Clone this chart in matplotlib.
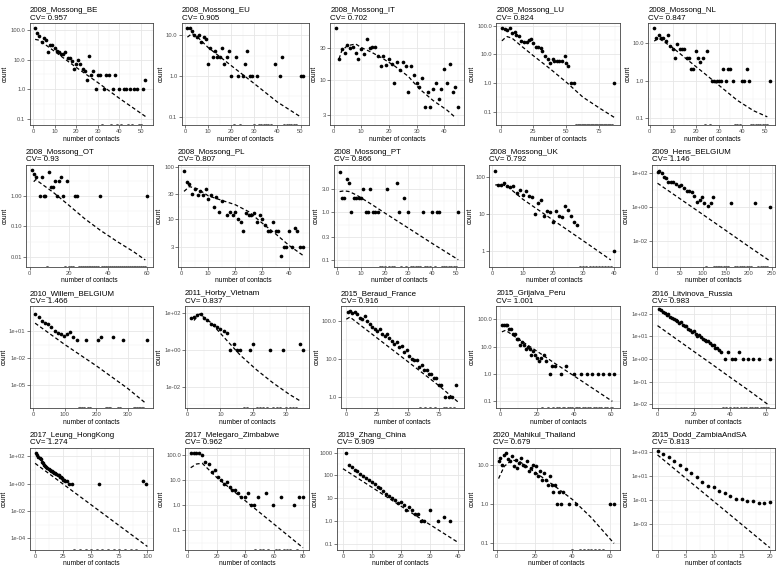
import matplotlib.pyplot as plt
from matplotlib.ticker import MultipleLocator, FixedLocator, NullFormatter

plt.rcParams['font.family'] = ['Liberation Sans', 'DejaVu Sans']

# ---------------- data ----------------
be_x = [1, 2, 3, 4, 5, 6, 7, 8, 9, 10, 11, 12, 13, 14, 15, 16, 17, 18, 19, 20, 21, 22, 23, 24, 25, 26, 27, 28, 29, 30, 31,
        33, 34, 35, 37, 38, 40, 42, 43, 45, 47, 48, 51, 52]
be_y = [120, 80, 62, 38, 52, 45, 18, 32, 30, 25, 19, 18, 16, 15, 18, 11, 11, 9, 5, 7, 10, 7, 5, 4, 2, 13, 3, 4, 1, 3, 3,
        1, 3, 3, 1, 3, 1, 1, 1, 1, 1, 1, 1, 2]
be_zero = [32, 36, 39, 41, 44, 46, 49, 50]
be_fit_x = [1, 3, 5, 10, 20, 30, 40, 53]
be_fit_y = [48, 45, 35, 19, 5.5, 1.7, 0.5, 0.11]

eu_x = [1, 2, 3, 4, 5, 6, 7, 8, 9, 10, 11, 12, 13, 14, 15, 16, 17, 18, 19, 20, 22, 23, 25, 26, 27, 28, 29, 31, 39, 41,
        42, 50, 51]
eu_y = [15, 15, 13, 10, 9, 10, 7, 9, 8, 2, 5, 3, 4, 3, 3, 5, 2, 3, 4, 1, 3, 1, 1, 2, 4, 1, 1, 1, 2, 1, 3, 1, 1]
eu_zero = [21, 24, 30, 32, 33, 34, 35, 36, 37, 43, 44, 45, 46, 47, 48]
eu_fit_x = [1, 3, 5, 10, 20, 30, 40, 50]
eu_fit_y = [9, 11, 9.5, 5, 1.8, 0.65, 0.23, 0.1]

it_x = [1, 2, 3, 4, 5, 6, 7, 8, 9, 10, 11, 12, 13, 14, 15, 16, 17, 18, 19, 20, 21, 22, 23, 24, 25, 26, 27, 28, 29, 30,
        31, 32, 33, 34, 35, 36, 37, 38, 39, 40, 41, 42, 43, 44, 45]
it_y = [61, 21, 29, 26, 34, 30, 32, 26, 21, 29, 25, 42, 30, 32, 32, 23, 16.5, 23, 17, 21, 17.5, 9, 19, 14.5, 19, 16.5,
        6.7, 16.5, 12, 9, 8, 11, 4, 6.7, 4, 7.5, 9, 5.2, 7.4, 15, 9, 17.5, 6.7, 8, 4]
it_zero = []
it_fit_x = [2, 3, 5, 8, 10, 14, 18, 22, 27, 31, 36, 41, 44]
it_fit_y = [21, 28, 33, 35, 31, 26, 21, 16.5, 11.5, 7.5, 5, 3.6, 2.8]

lu_x = [1, 3, 5, 7, 9, 11, 12, 14, 16, 18, 20, 22, 23, 25, 27, 29, 31, 32, 34, 36, 38, 40, 41, 43, 45, 47, 49, 50, 52,
        54, 56, 87]
lu_y = [85, 79, 69, 85, 54, 62, 48, 44, 30, 28, 28, 31, 35, 24, 18, 18, 17, 13, 9, 7, 5, 7, 6, 6, 6, 6, 9, 5, 4,
        1, 1, 1]
lu_zero = [58, 59, 60, 61, 62, 63, 64, 65, 66, 67, 68, 69, 70, 71, 72, 73, 74, 75, 76, 77, 78, 79, 80, 81, 82, 83, 84, 85]
lu_fit_x = [1, 3, 5, 9, 15, 25, 38, 51, 63, 76, 87]
lu_fit_y = [29.5, 36, 41.6, 36, 21, 9, 3.1, 1, 0.32, 0.13, 0.063]

nl_x = [2, 3, 4, 5, 6, 7, 8, 9, 10, 11, 12, 13, 14, 15, 16, 17, 18, 19, 20, 21, 22, 23, 25, 27, 28, 29, 30, 31, 32, 33,
        34, 35, 36, 40, 41, 42, 43, 52]
nl_y = [25, 13, 16, 13, 13, 11, 16, 8, 7, 4, 9, 7, 7, 7, 4, 4, 2, 2, 6, 4, 3, 4, 6, 1, 1, 1, 1, 1, 2, 1,
        2, 2, 1, 1, 1, 2, 1, 1]
nl_zero = [24, 26, 37, 38, 39, 44, 45, 46, 47, 48, 49, 50, 51]
nl_fit_x = [2, 4, 10, 17, 24, 31, 38, 45, 51]
nl_fit_y = [11, 13, 7.4, 3.3, 1.5, 0.67, 0.3, 0.16, 0.11]

ot_x = [1, 2, 3, 5, 6, 7, 8, 10, 11, 12, 13, 14, 15, 16, 17, 19, 23, 24, 36, 60]
ot_y = [7, 5, 4, 1, 4, 1, 1, 6, 2, 2, 3, 1, 3, 4, 1, 3, 1, 1, 1, 1]
ot_zero = [9, 18, 20, 21, 22, 25, 26, 27, 28, 29, 30, 31, 32, 33, 34, 35, 37, 38, 39, 40, 41, 42, 43, 44, 45, 46, 47,
           48, 49, 50, 51, 52, 53, 54, 55, 56, 57, 58, 59]
ot_fit_x = [2, 3, 12, 20, 28, 36, 45, 53, 59]
ot_fit_y = [2.9, 3.4, 1.3, 0.49, 0.18, 0.075, 0.031, 0.015, 0.008]

pl_x = [1, 2, 3, 4, 5, 6, 7, 8, 9, 10, 11, 12, 13, 14, 15, 17, 18, 19, 20, 21, 22, 23, 24, 25, 26, 27, 28, 29, 30, 31,
        32, 33, 34, 35, 36, 37, 38, 39, 40, 41, 42, 43, 44, 45]
pl_y = [84, 51, 47, 30, 38, 29, 34, 29, 37, 24, 29, 17, 27, 14, 22, 12, 14, 12, 14, 10, 9, 6, 13, 12, 12, 13, 9, 12, 10,
        8, 6, 6, 9, 6, 6, 2, 3, 3, 6, 3, 7, 6, 3, 3]
pl_zero = []
pl_fit_x = [1, 3, 6, 10, 15, 20, 25, 30, 35, 40, 45]
pl_fit_y = [34, 42, 38, 28, 23, 19, 14, 8.5, 5.3, 3.2, 2.1]

pt_x = [1, 2, 3, 4, 5, 6, 7, 8, 9, 10, 11, 12, 13, 14, 15, 16, 17, 21, 25, 26, 28, 30, 36, 40, 42, 43, 51]
pt_y = [7, 2, 2, 5, 4, 1, 2, 2, 2, 2, 3, 1, 1, 3, 1, 1, 1, 3, 4, 1, 2, 1, 1, 1, 1, 1, 1]
pt_zero = [18, 19, 20, 22, 23, 24, 27, 29, 31, 32, 33, 34, 35, 37, 38, 39, 41, 44, 45, 46, 47, 48, 49, 50]
pt_fit_x = [1, 3, 5, 8, 10, 15, 20, 30, 40, 51]
pt_fit_y = [2.7, 2.8, 2.7, 2.3, 2, 1.4, 0.96, 0.46, 0.22, 0.1]

uk_x = [1, 2, 3, 4, 5, 6, 7, 8, 9, 10, 11, 12, 13, 14, 15, 16, 17, 18, 19, 20, 21, 22, 23, 24, 25, 26, 27, 28, 40]
uk_y = [145, 60, 61, 68, 57, 52, 57, 36, 44, 32, 41, 31, 28, 10, 19, 23, 9, 12, 11, 6, 12, 9, 8, 16, 13, 9, 6, 5, 1]
uk_zero = [29, 30, 31, 32, 33, 34, 35, 36, 37, 38, 39]
uk_fit_x = [1, 3, 5, 10, 20, 30, 39]
uk_fit_y = [60, 62, 55, 25, 6.8, 1.86, 0.57]

hens_x = [2, 6, 11, 15, 20, 25, 31, 36, 42, 48, 53, 59, 66, 71, 77, 82, 88, 93, 98, 102, 111, 117, 122, 162, 212, 245]
hens_y = [125, 143, 100, 64, 53, 32, 30, 32, 22, 19, 20, 14, 9.5, 9.5, 8.3, 4.3, 2, 2.7, 4.1, 1.8, 1.1, 1.8, 4.1, 1.8,
          1.8, 1]
hens_zero = [108, 125, 128, 132, 135, 140, 145, 150, 155, 170, 175, 180, 185, 190, 195, 200, 205, 220, 225, 230, 235, 240]
hens_fit_x = [2, 50, 100, 150, 200, 245]
hens_fit_y = [26, 3.2, 0.36, 0.04, 0.0044, 0.00063]

willem_x = [6, 18, 28, 38, 47, 57, 68, 79, 88, 98, 107, 118, 127, 138, 167, 206, 216, 255, 284, 363]
willem_y = [810, 350, 150, 84, 55, 32, 9.2, 6, 5, 2.8, 4.7, 7.7, 2.2, 1, 1, 1, 2.2, 2.2, 1, 1]
willem_zero = [145, 150, 155, 160, 175, 180, 230, 235, 240, 245, 270, 275, 320, 325, 330, 335, 340, 345, 350]
willem_fit_x = [6, 100, 200, 300, 355]
willem_fit_y = [76, 0.32, 1.4e-3, 4.2e-6, 1.1e-7]

horby_x = [1, 2, 3, 4, 5, 6, 7, 8, 9, 10, 11, 12, 13, 14, 15, 16, 19, 20, 25, 29, 34, 35]
horby_y = [54, 59, 81, 88, 50, 39, 26, 21, 17, 13, 10, 8.5, 1, 2, 1, 1, 1, 2, 1, 1, 2, 1]
horby_zero = [17, 18, 21, 22, 23, 24, 26, 27, 28, 30, 31, 32, 33]
horby_fit_x = [2, 3.6, 7, 11, 16, 21, 26, 31, 34.5]
horby_fit_y = [39, 88, 31, 5, 0.52, 0.082, 0.016, 0.0038, 0.0016]

beraud_x = [1, 3, 5, 7, 9, 11, 13, 15, 17, 19, 21, 23, 25, 27, 29, 31, 33, 35, 37, 39, 41, 43, 45, 47, 49, 51, 53, 55,
            57, 59, 61, 63, 65, 67, 69, 71, 73, 75, 77, 80, 83, 86, 89]
beraud_y = [170, 180, 160, 170, 150, 120, 110, 130, 100, 80, 70, 60, 55, 60, 45, 40, 45, 35, 30, 25, 28, 20, 22, 15, 17,
            12, 10, 9, 9, 6, 7, 5, 5, 4, 4, 3, 3, 2, 2, 1, 1, 1, 2]
beraud_zero = [60, 64, 68, 72, 79, 81, 84, 87]
beraud_fit_x = [0, 3, 10, 25, 50, 75, 91]
beraud_fit_y = [110, 125, 83, 35, 8.3, 1.95, 0.7]

grijalva_x = [1, 2, 3, 4, 5, 6, 7, 8, 9, 10, 11, 12, 13, 14, 15, 16, 17, 18, 19, 20, 21, 22, 24, 25, 27, 28, 30, 33,
              36, 40, 44, 47, 50, 53, 56, 59, 62]
grijalva_y = [60, 60, 60, 60, 45, 45, 30, 30, 19, 20, 12, 15, 12, 8, 10, 8, 5, 7, 5, 4, 3, 4, 5, 3, 1, 2, 2, 1, 2, 1,
              1, 1, 1, 1, 1, 1, 1]
grijalva_zero = [23, 26, 29, 31, 32, 34, 35, 37, 38, 39, 41, 42, 43, 45, 46, 48, 49, 51, 52, 54, 55, 57, 58, 60, 61]
grijalva_fit_x = [1, 3, 10, 20, 30, 40, 50, 61]
grijalva_fit_y = [35, 40, 19, 6.9, 2.4, 0.87, 0.31, 0.1]

litvinova_x = [1, 2, 3, 4, 5, 6, 7, 8, 9, 10, 11, 12, 13, 14, 15, 16, 17, 18, 19, 20, 21, 22, 23, 24, 25, 26, 27, 28,
               29, 30, 31, 32, 33, 34, 35, 37, 39, 41, 43, 45, 47, 50, 53, 56, 62]
litvinova_y = [160, 140, 120, 110, 90, 95, 75, 65, 60, 55, 48, 40, 42, 33, 28, 30, 22, 20, 16, 18, 13, 11, 12, 9, 8, 7,
               6, 6, 5, 4, 4, 3, 3, 2.5, 2, 1, 2, 1, 1, 2, 1, 1, 1, 1, 1]
litvinova_zero = [36, 38, 40, 42, 44, 46, 48, 49, 51, 52, 54, 55, 57, 58, 59, 60, 61]
litvinova_fit_x = [0, 10, 20, 30, 40, 50, 61]
litvinova_fit_y = [30, 8.1, 2.2, 0.6, 0.16, 0.044, 0.01]

leung_x = [1, 2, 3, 4, 5, 6, 7, 8, 9, 10, 11, 12, 13, 14, 15, 16, 17, 18, 19, 20, 21, 22, 23, 24, 25, 26, 27, 28, 30,
           33, 57, 96, 99]
leung_y = [165, 120, 90, 80, 60, 40, 35, 25, 20, 18, 14, 12, 10, 9, 8, 7, 6, 6, 5, 4, 4, 3, 3, 2.5, 2, 2, 1.5, 1.5, 1,
           1, 1, 1.5, 1]
leung_zero = [35, 40, 45, 50, 55, 60, 65, 70, 75, 80, 85, 90]
leung_fit_x = [0, 25, 50, 75, 100]
leung_fit_y = [31, 0.93, 0.028, 8.3e-4, 2.5e-5]

melegaro_x = [2, 4, 6, 8, 10, 12, 15, 17, 19, 21, 23, 25, 27, 29, 31, 33, 35, 37, 40, 42, 44, 46, 49, 54, 59, 65, 74,
              77, 80]
melegaro_y = [120, 120, 120, 120, 100, 52, 44, 21, 25, 13, 10, 7, 8, 5, 4, 4, 3, 2, 2, 3, 1, 1, 2, 3, 1, 2, 1, 2, 2]
melegaro_zero = [47, 50, 52, 56, 61, 63, 67, 69, 71, 76]
melegaro_fit_x = [2, 6, 10, 20, 40, 60, 80]
melegaro_fit_y = [30, 42, 45, 12.4, 1.45, 0.17, 0.02]

zhang_x = [1, 2, 3, 4, 5, 6, 7, 8, 9, 10, 11, 12, 13, 14, 15, 16, 17, 18, 19, 20, 21, 22, 23, 24, 25, 26, 27, 28, 30,
           33, 35, 37]
zhang_y = [1000, 290, 230, 180, 150, 110, 90, 75, 65, 50, 40, 30, 28, 20, 15, 12, 10, 8, 6, 7, 5, 3, 4, 3, 2, 2, 1, 1,
           3, 1, 1.5, 1]
zhang_zero = []
zhang_fit_x = [0, 10, 20, 30, 40]
zhang_fit_y = [195, 30, 4.5, 0.7, 0.11]

mahikul_x = [1, 2, 3, 4, 5, 6, 7, 8, 9, 10, 11, 12, 13, 14, 15, 16, 17, 18, 19, 20, 21, 22, 23, 24, 25, 26, 27, 28,
             29, 30, 31, 32, 33, 34, 35, 38, 42, 60, 62]
mahikul_y = [12, 15, 10, 17, 20, 14, 12, 16, 9, 13, 8, 11, 15, 10, 9, 12, 7, 8, 10, 6, 9, 5, 7, 4, 6, 4, 3, 5, 3, 2,
             3, 1, 2, 1, 2, 1, 1, 1, 1]
mahikul_zero = [40, 44, 46, 48, 50, 52, 54, 56]
mahikul_fit_x = [1, 4, 8, 12, 20, 30, 40, 50, 62]
mahikul_fit_y = [4.4, 9, 13, 12, 6.5, 3, 1.3, 0.45, 0.1]

dodd_x = [0, 1, 2, 3, 4, 5, 6, 7, 8, 9, 10, 11, 12, 13, 14, 15, 16, 17, 18, 19, 20]
dodd_y = [1200, 680, 380, 180, 82, 38, 18, 8.3, 3.2, 1.5, 1.2, 0.56, 0.39, 0.21, 0.12, 0.12, 0.08, 0.08, 0.06, 0.06,
          0.07]
dodd_zero = []
dodd_fit_x = [0, 5, 10, 15, 20]
dodd_fit_y = [600, 6.8, 0.078, 8.8e-4, 1e-5]

names = ["2008_Mossong_BE", "2008_Mossong_EU", "2008_Mossong_IT", "2008_Mossong_LU", "2008_Mossong_NL",
         "2008_Mossong_OT", "2008_Mossong_PL", "2008_Mossong_PT", "2008_Mossong_UK", "2009_Hens_BELGIUM",
         "2010_Willem_BELGIUM", "2011_Horby_Vietnam", "2015_Beraud_France", "2015_Grijalva_Peru",
         "2016_Litvinova_Russia", "2017_Leung_HongKong", "2017_Melegaro_Zimbabwe", "2019_Zhang_China",
         "2020_Mahikul_Thailand", "2015_Dodd_ZambiaAndSA"]
cvs = ["0.957", "0.905", "0.702", "0.824", "0.847", "0.93", "0.807", "0.866", "0.792", "1.146",
       "1.466", "0.837", "0.916", "1.001", "0.983", "1.274", "0.962", "0.909", "0.679", "0.813"]

series = [
    (be_x, be_y, be_zero, be_fit_x, be_fit_y),
    (eu_x, eu_y, eu_zero, eu_fit_x, eu_fit_y),
    (it_x, it_y, it_zero, it_fit_x, it_fit_y),
    (lu_x, lu_y, lu_zero, lu_fit_x, lu_fit_y),
    (nl_x, nl_y, nl_zero, nl_fit_x, nl_fit_y),
    (ot_x, ot_y, ot_zero, ot_fit_x, ot_fit_y),
    (pl_x, pl_y, pl_zero, pl_fit_x, pl_fit_y),
    (pt_x, pt_y, pt_zero, pt_fit_x, pt_fit_y),
    (uk_x, uk_y, uk_zero, uk_fit_x, uk_fit_y),
    (hens_x, hens_y, hens_zero, hens_fit_x, hens_fit_y),
    (willem_x, willem_y, willem_zero, willem_fit_x, willem_fit_y),
    (horby_x, horby_y, horby_zero, horby_fit_x, horby_fit_y),
    (beraud_x, beraud_y, beraud_zero, beraud_fit_x, beraud_fit_y),
    (grijalva_x, grijalva_y, grijalva_zero, grijalva_fit_x, grijalva_fit_y),
    (litvinova_x, litvinova_y, litvinova_zero, litvinova_fit_x, litvinova_fit_y),
    (leung_x, leung_y, leung_zero, leung_fit_x, leung_fit_y),
    (melegaro_x, melegaro_y, melegaro_zero, melegaro_fit_x, melegaro_fit_y),
    (zhang_x, zhang_y, zhang_zero, zhang_fit_x, zhang_fit_y),
    (mahikul_x, mahikul_y, mahikul_zero, mahikul_fit_x, mahikul_fit_y),
    (dodd_x, dodd_y, dodd_zero, dodd_fit_x, dodd_fit_y),
]

# y tick labels as printed on each panel
ytick_labels = [
    ["0.1", "1.0", "10.0", "100.0"], ["0.1", "1.0", "10.0"], ["3", "10", "30"],
    ["0.1", "1.0", "10.0", "100.0"], ["0.1", "1.0", "10.0"],
    ["0.01", "0.10", "1.00"], ["3", "10", "30", "100"], ["0.1", "0.3", "1.0", "3.0"],
    ["1", "10", "100"], ["1e-02", "1e+00", "1e+02"],
    ["1e-05", "1e-02", "1e+01"], ["1e-02", "1e+00", "1e+02"], ["1.0", "10.0", "100.0"],
    ["0.1", "1.0", "10.0", "100.0"], ["1e-02", "1e-01", "1e+00", "1e+01", "1e+02"],
    ["1e-04", "1e-02", "1e+00", "1e+02"], ["0.1", "1.0", "10.0", "100.0"], ["0.1", "1.0", "10", "100", "1000"],
    ["0.1", "1.0", "10.0"], ["1e-03", "1e-01", "1e+01", "1e+03"],
]

# axis layout: y limits and x tick step per panel
ylims = [(0.063, 171), (0.063, 20), (2.16, 72), (0.034, 124), (0.067, 33),
         (0.0049, 10.6), (1.28, 110), (0.072, 10), (0.38, 214), (2.9e-4, 338),
         (2.7e-8, 6200), (7.2e-4, 237), (0.5, 245), (0.057, 310), (0.007, 220),
         (1.5e-5, 450), (0.017, 190), (0.055, 1670), (0.07, 27), (7e-6, 2500)]
xsteps = [10, 10, 10, 25, 10, 20, 10, 10, 10, 50, 100, 10, 25, 20, 20, 25, 20, 10, 20, 5]

W, H = 778, 566
fig = plt.figure(figsize=(W / 100, H / 100), dpi=100)

for i, (xs, ys, zs, fx, fy) in enumerate(series):
    r, c = divmod(i, 5)
    labels = ytick_labels[i]
    nch = max(len(s) for s in labels)
    cell_x = c * 155.6
    left = cell_x + 12 + 3.5 * nch
    right = cell_x + 153
    top = r * 141.5 + 23
    bottom = r * 141.5 + 125
    ax = fig.add_axes([left / W, 1 - bottom / H, (right - left) / W, (bottom - top) / H])
    ax.set_yscale('log')

    ticks = [float(s) for s in labels]
    ax.yaxis.set_major_locator(FixedLocator(ticks))
    ax.set_yticklabels(labels)
    minors = [(a * b) ** 0.5 for a, b in zip(ticks[:-1], ticks[1:])]
    minors = [ticks[0] ** 2 / minors[0]] + minors + [ticks[-1] ** 2 / minors[-1]]
    ax.yaxis.set_minor_locator(FixedLocator(minors))
    ax.yaxis.set_minor_formatter(NullFormatter())
    ax.xaxis.set_major_locator(MultipleLocator(xsteps[i]))
    ax.xaxis.set_minor_locator(MultipleLocator(xsteps[i] / 2))

    allx = list(xs) + list(zs) + list(fx)
    lo, hi = min(allx), max(allx)
    pad = 0.05 * (hi - lo)
    ax.set_xlim(lo - pad, hi + pad)
    ax.set_ylim(*ylims[i])

    ax.grid(which='major', color='#e6e6e6', lw=0.6)
    ax.grid(which='minor', color='#f2f2f2', lw=0.35)
    ax.set_axisbelow(True)
    for s in ax.spines.values():
        s.set_color('#444444')
        s.set_linewidth(0.6)
    ax.tick_params(which='major', length=2, width=0.5, color='#444444',
                   labelsize=4.2, labelcolor='#4d4d4d', pad=1)
    ax.tick_params(which='minor', length=0)

    ax.plot(fx, fy, color='black', lw=0.9, dashes=(3, 2), zorder=2)
    ax.scatter(xs, ys, s=7, c='black', linewidths=0, zorder=3)
    if zs:
        ax.scatter(zs, [ylims[i][0]] * len(zs), s=5, c='#666666', linewidths=0, zorder=3)

    ax.set_xlabel("number of contacts", fontsize=4.8, labelpad=1)
    ax.set_ylabel("count", fontsize=4.8, labelpad=1)
    ax.set_title(f"{names[i]}\nCV= {cvs[i]}", loc='left', fontsize=5.7, pad=2.5, linespacing=1.1)

fig.savefig("out.png", dpi=100)
